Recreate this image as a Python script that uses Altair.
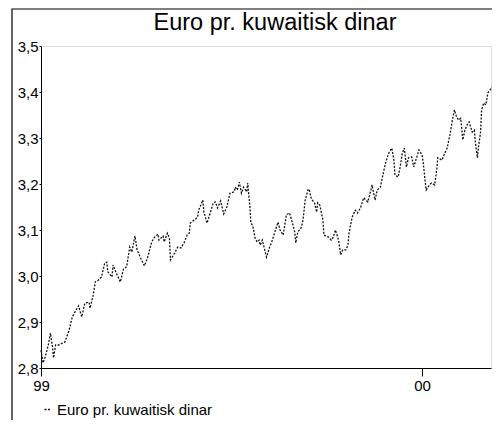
import altair as alt
import pandas as pd

title_text = "Euro pr. kuwaitisk dinar"
series_name = "Euro pr. kuwaitisk dinar"

# days since 1999-01-01
day_offsets = [0, 2, 4, 7, 9, 11, 12, 14, 17, 23, 27, 30, 32, 36, 39, 42, 46, 47, 50, 52,
               55, 58, 61, 63, 64, 68, 69, 72, 76, 79, 82, 85, 87, 90, 92, 95, 99, 102, 106, 109,
               112, 113, 117, 118, 121, 123, 124, 128, 131, 134, 137, 140, 142, 143, 147, 150, 151, 155, 156, 159,
               162, 165, 167, 169, 172, 175, 178, 181, 185, 186, 188, 190, 192, 194, 197, 198, 199, 200, 201, 203,
               205, 207, 209, 210, 212, 215, 216, 219, 221, 224, 227, 229, 232, 235, 238, 240, 243, 244, 246, 249,
               251, 253, 256, 257, 259, 262, 264, 265, 267, 270, 271, 275, 278, 280, 282, 285, 287, 289, 292, 294,
               295, 298, 301, 303, 306, 309, 313, 316, 317, 320, 322, 325, 327, 330, 333, 336, 338, 339, 342, 344,
               346, 348, 350, 352, 355, 357, 359, 362, 365, 366, 368, 369, 372, 374, 377, 379, 380, 384, 386, 389,
               392, 394, 396, 398, 400, 402, 404, 406, 409, 410, 413, 415, 416, 418, 419, 421, 422, 424, 426, 428,
               430, 432]

rates = [2.839, 2.811, 2.824, 2.850, 2.876, 2.846, 2.822, 2.850, 2.850, 2.857, 2.883, 2.911, 2.920, 2.935, 2.911, 2.941, 2.943, 2.930, 2.959, 2.987,
         2.991, 2.998, 3.028, 3.030, 3.009, 2.998, 3.024, 3.007, 2.987, 3.015, 3.020, 3.063, 3.052, 3.087, 3.057, 3.041, 3.022, 3.039, 3.074, 3.085,
         3.091, 3.078, 3.087, 3.074, 3.093, 3.083, 3.035, 3.050, 3.063, 3.061, 3.072, 3.089, 3.093, 3.115, 3.122, 3.128, 3.143, 3.165, 3.139, 3.115,
         3.137, 3.159, 3.161, 3.148, 3.163, 3.135, 3.150, 3.180, 3.183, 3.193, 3.187, 3.204, 3.180, 3.193, 3.183, 3.202, 3.176, 3.154, 3.117, 3.107,
         3.083, 3.074, 3.078, 3.067, 3.078, 3.050, 3.041, 3.063, 3.074, 3.096, 3.117, 3.100, 3.089, 3.133, 3.137, 3.122, 3.096, 3.072, 3.096, 3.104,
         3.122, 3.165, 3.189, 3.187, 3.167, 3.159, 3.139, 3.159, 3.154, 3.122, 3.089, 3.085, 3.078, 3.085, 3.100, 3.078, 3.046, 3.057, 3.057, 3.067,
         3.093, 3.128, 3.143, 3.137, 3.148, 3.170, 3.161, 3.187, 3.198, 3.165, 3.187, 3.193, 3.215, 3.246, 3.267, 3.278, 3.252, 3.220, 3.215, 3.237,
         3.267, 3.278, 3.237, 3.257, 3.259, 3.237, 3.252, 3.274, 3.263, 3.248, 3.204, 3.187, 3.198, 3.202, 3.198, 3.230, 3.257, 3.252, 3.263, 3.278,
         3.311, 3.339, 3.361, 3.346, 3.339, 3.343, 3.296, 3.317, 3.333, 3.335, 3.313, 3.317, 3.291, 3.257, 3.280, 3.313, 3.361, 3.376, 3.372, 3.398,
         3.404, 3.411]

y_ticks = [2.8, 2.9, 3.0, 3.1, 3.2, 3.3, 3.4, 3.5]
x_domain = ["1999-01-01", "2000-03-07"]

dates = pd.to_datetime("1999-01-01") + pd.to_timedelta(day_offsets, unit="D")
df = pd.DataFrame({"date": dates, "rate": rates, "series": series_name})

FONT = "Liberation Sans"
W, H = 450, 322

line = alt.Chart(df).mark_line(
    strokeDash=[2, 1.5], strokeWidth=1.3, color="#111111"
).encode(
    x=alt.X("date:T",
            scale=alt.Scale(domain=x_domain),
            axis=alt.Axis(values=[alt.DateTime(year=1999, month=1, date=1),
                                  alt.DateTime(year=2000, month=1, date=1)],
                          labelExpr="timeFormat(datum.value, '%y')",
                          title=None, grid=False, tickSize=8, labelPadding=2,
                          labelFontSize=15, labelFont=FONT, labelColor="#000",
                          domainColor="#000", tickColor="#000", labelFlush=False)),
    y=alt.Y("rate:Q",
            scale=alt.Scale(domain=[2.8, 3.5], nice=False, zero=False),
            axis=alt.Axis(values=y_ticks,
                          labelExpr="replace(format(datum.value, '.1f'), '.', ',')",
                          title=None, grid=False, tickSize=2, labelPadding=1,
                          labelFontSize=15, labelFont=FONT, labelColor="#000",
                          domainColor="#000", tickColor="#000", labelFlush=False)),
    color=alt.Color("series:N",
                    scale=alt.Scale(range=["#111111"]),
                    legend=alt.Legend(title=None, orient="none", legendX=-1, legendY=356,
                                      symbolType="stroke", symbolStrokeWidth=1.3,
                                      symbolDash=[2, 1.5], symbolSize=36,
                                      labelFontSize=15, labelFont=FONT, labelColor="#000",
                                      labelOffset=2)),
)

one = pd.DataFrame({"label": [title_text]})

frame = alt.Chart(one).mark_rect(
    fill=None, stroke="#000", strokeWidth=1.2
).encode(x=alt.value(-29), x2=alt.value(W + 20), y=alt.value(-37), y2=alt.value(H + 120))

title = alt.Chart(one).mark_text(
    font=FONT, fontSize=23.5, color="#000", align="center", baseline="alphabetic"
).encode(text="label:N", x=alt.value(234), y=alt.value(-16))

chart = alt.layer(frame, title, line).properties(
    width=W, height=H,
    autosize=alt.AutoSizeParams(type="none"),
    padding={"left": 33, "top": 38, "right": 1, "bottom": 52},
).configure_view(stroke="#000", strokeWidth=1.2).configure(background="white")

chart.save("out.html", embed_options={"renderer": "svg", "actions": False})
